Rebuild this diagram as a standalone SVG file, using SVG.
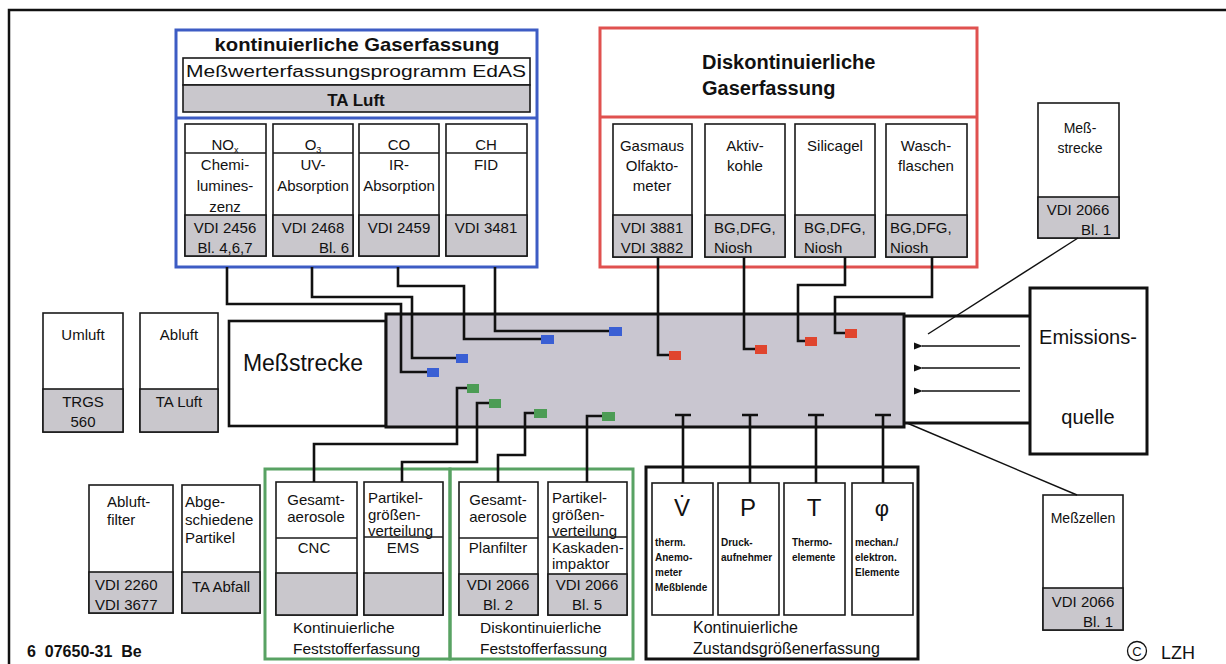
<svg xmlns="http://www.w3.org/2000/svg" width="1226" height="664" viewBox="0 0 1226 664">
<defs>
<style>
.t{font-family:"Liberation Sans",Arial,Helvetica,sans-serif;font-size:15px;fill:#111}
.b{font-weight:bold}
.m{text-anchor:middle}
.e{text-anchor:end}
.box{fill:#fff;stroke:#1a1a1a;stroke-width:1.6}
.gr{fill:#c9c7cc;stroke:#1a1a1a;stroke-width:1.6}
.ln{fill:none;stroke:#1a1a1a;stroke-width:1.6}
.conn{fill:none;stroke:#111;stroke-width:2.6}
.bs{fill:#3a5fd4}
.rs{fill:#e0452e}
.gs{fill:#4c9c55}
.sm{font-size:10px;font-weight:bold}
.cap{font-size:15.5px}
</style>
<marker id="ah" viewBox="0 0 10 10" refX="1" refY="5" markerWidth="7" markerHeight="7" orient="auto-start-reverse">
<path d="M10 1 L0 5 L10 9 z" fill="#111"/>
</marker>
</defs>
<rect width="1226" height="664" fill="#fff"/>
<path d="M9 664 V10 H1226" fill="none" stroke="#111" stroke-width="2.5"/>

<g id="blue-group">
<rect x="176" y="30" width="361" height="237" fill="none" stroke="#3d5cc4" stroke-width="3"/>
<line x1="176" y1="118" x2="537" y2="118" stroke="#3d5cc4" stroke-width="3"/>
<text class="t b m" x="357" y="51" style="font-size:19px" textLength="285" lengthAdjust="spacingAndGlyphs">kontinuierliche Gaserfassung</text>
<rect class="box" x="183" y="58" width="347" height="27"/>
<rect class="gr" x="183" y="85" width="347" height="27"/>
<text class="t m" x="356" y="77" style="font-size:16px" textLength="340" lengthAdjust="spacingAndGlyphs">Meßwerterfassungsprogramm EdAS</text>
<text class="t b m" x="356" y="106" style="font-size:17px">TA Luft</text>
</g>

<g id="nox">
<rect class="box" x="185" y="124" width="81" height="132"/>
<line class="ln" x1="185" y1="153" x2="266" y2="153"/>
<rect class="gr" x="185" y="215" width="81" height="41"/>
<text class="t m" x="225" y="150">NO<tspan font-size="9" dy="3">x</tspan></text>
<text class="t m" x="225" y="170">Chemi-</text>
<text class="t m" x="225" y="191">lumines-</text>
<text class="t m" x="225" y="212">zenz</text>
<text class="t m" x="225" y="233">VDI 2456</text>
<text class="t m" x="225" y="253">Bl. 4,6,7</text>
</g>
<g id="o3">
<rect class="box" x="273" y="124" width="80" height="132"/>
<line class="ln" x1="273" y1="153" x2="353" y2="153"/>
<rect class="gr" x="273" y="215" width="80" height="41"/>
<text class="t m" x="313" y="150">O<tspan font-size="9" dy="3">3</tspan></text>
<text class="t m" x="313" y="170">UV-</text>
<text class="t m" x="313" y="191">Absorption</text>
<text class="t m" x="313" y="233">VDI 2468</text>
<text class="t e" x="349" y="253">Bl. 6</text>
</g>
<g id="co">
<rect class="box" x="359" y="124" width="80" height="132"/>
<line class="ln" x1="359" y1="153" x2="439" y2="153"/>
<rect class="gr" x="359" y="215" width="80" height="41"/>
<text class="t m" x="399" y="150">CO</text>
<text class="t m" x="399" y="170">IR-</text>
<text class="t m" x="399" y="191">Absorption</text>
<text class="t m" x="399" y="233">VDI 2459</text>
</g>
<g id="ch">
<rect class="box" x="446" y="124" width="81" height="132"/>
<line class="ln" x1="446" y1="153" x2="527" y2="153"/>
<rect class="gr" x="446" y="215" width="81" height="41"/>
<text class="t m" x="486" y="150">CH</text>
<text class="t m" x="486" y="170">FID</text>
<text class="t m" x="486" y="233">VDI 3481</text>
</g>

<g id="red-group">
<rect x="600" y="28" width="377" height="239" fill="none" stroke="#e0514f" stroke-width="3"/>
<line x1="600" y1="117" x2="977" y2="117" stroke="#e0514f" stroke-width="3"/>
<text class="t b" x="702" y="69" style="font-size:20px">Diskontinuierliche</text>
<text class="t b" x="702" y="95" style="font-size:20px">Gaserfassung</text>
</g>
<g id="gasmaus">
<rect class="box" x="613" y="124" width="79" height="133"/>
<rect class="gr" x="613" y="215" width="79" height="42"/>
<text class="t m" x="652" y="151">Gasmaus</text>
<text class="t m" x="652" y="171">Olfakto-</text>
<text class="t m" x="652" y="191">meter</text>
<text class="t m" x="652" y="233">VDI 3881</text>
<text class="t m" x="652" y="253">VDI 3882</text>
</g>
<g id="aktivkohle">
<rect class="box" x="705" y="124" width="80" height="133"/>
<rect class="gr" x="705" y="215" width="80" height="42"/>
<text class="t m" x="745" y="151">Aktiv-</text>
<text class="t m" x="745" y="171">kohle</text>
<text class="t" x="714" y="233">BG,DFG,</text>
<text class="t" x="714" y="253">Niosh</text>
</g>
<g id="silicagel">
<rect class="box" x="795" y="124" width="80" height="133"/>
<rect class="gr" x="795" y="215" width="80" height="42"/>
<text class="t m" x="835" y="151">Silicagel</text>
<text class="t" x="804" y="233">BG,DFG,</text>
<text class="t" x="804" y="253">Niosh</text>
</g>
<g id="waschflaschen">
<rect class="box" x="886" y="124" width="81" height="133"/>
<rect class="gr" x="886" y="215" width="81" height="42"/>
<text class="t m" x="926" y="151">Wasch-</text>
<text class="t m" x="926" y="171">flaschen</text>
<text class="t" x="890" y="233">BG,DFG,</text>
<text class="t" x="890" y="253">Niosh</text>
</g>

<g id="messstrecke-norm">
<rect class="box" x="1038" y="103" width="81" height="135"/>
<rect class="gr" x="1038" y="197" width="81" height="41"/>
<text class="t m" x="1080" y="133" style="font-size:14px">Meß-</text>
<text class="t m" x="1080" y="153" style="font-size:14px">strecke</text>
<text class="t m" x="1078" y="215">VDI 2066</text>
<text class="t e" x="1111" y="235">Bl. 1</text>
</g>

<g id="umluft">
<rect class="box" x="43" y="313" width="80" height="119"/>
<rect class="gr" x="43" y="389" width="80" height="43"/>
<text class="t m" x="83" y="340">Umluft</text>
<text class="t m" x="83" y="407">TRGS</text>
<text class="t m" x="83" y="427">560</text>
</g>
<g id="abluft">
<rect class="box" x="140" y="313" width="78" height="119"/>
<rect class="gr" x="140" y="389" width="78" height="43"/>
<text class="t m" x="179" y="340">Abluft</text>
<text class="t m" x="179" y="407">TA Luft</text>
</g>
<g id="messstrecke">
<rect x="229" y="321" width="157" height="105" fill="#fff" stroke="#111" stroke-width="2.6"/>
<text class="t m" x="303" y="371" style="font-size:23px">Meßstrecke</text>
</g>

<g id="duct">
<rect x="386" y="314" width="518" height="113" fill="#c9c6d0" stroke="#111" stroke-width="3"/>
<line x1="904" y1="316" x2="1030" y2="316" stroke="#111" stroke-width="3"/>
<line x1="904" y1="423" x2="1030" y2="423" stroke="#111" stroke-width="3"/>
<line x1="1020" y1="346" x2="922" y2="346" stroke="#111" stroke-width="1.3" marker-end="url(#ah)"/>
<line x1="1020" y1="368" x2="922" y2="368" stroke="#111" stroke-width="1.3" marker-end="url(#ah)"/>
<line x1="1020" y1="391" x2="922" y2="391" stroke="#111" stroke-width="1.3" marker-end="url(#ah)"/>
</g>

<g id="emissionsquelle">
<rect x="1030" y="288" width="117" height="166" fill="#fff" stroke="#111" stroke-width="3"/>
<text class="t m" x="1088" y="344" style="font-size:20px">Emissions-</text>
<text class="t m" x="1088" y="424" style="font-size:20px">quelle</text>
</g>

<g id="messzellen">
<rect class="box" x="1043" y="495" width="80" height="135"/>
<rect class="gr" x="1043" y="588" width="80" height="42"/>
<text class="t m" x="1083" y="523" style="font-size:14px">Meßzellen</text>
<text class="t m" x="1083" y="607">VDI 2066</text>
<text class="t e" x="1113" y="627">Bl. 1</text>
</g>

<g id="abluftfilter">
<rect class="box" x="89" y="485" width="84" height="128"/>
<rect class="gr" x="89" y="572" width="84" height="41"/>
<text class="t" x="107" y="507">Abluft-</text>
<text class="t" x="107" y="525">filter</text>
<text class="t" x="95" y="590">VDI 2260</text>
<text class="t" x="95" y="610">VDI 3677</text>
</g>
<g id="abgeschiedene">
<rect class="box" x="182" y="485" width="78" height="128"/>
<rect class="gr" x="182" y="572" width="78" height="41"/>
<text class="t" x="185" y="507">Abge-</text>
<text class="t" x="185" y="525">schiedene</text>
<text class="t" x="185" y="543">Partikel</text>
<text class="t m" x="221" y="592">TA Abfall</text>
</g>

<g id="kont-feststoff">
<rect x="265" y="469" width="185" height="190" fill="none" stroke="#58a263" stroke-width="3"/>
<rect class="box" x="276" y="482" width="81" height="133"/>
<line class="ln" x1="276" y1="538" x2="357" y2="538"/>
<rect class="gr" x="276" y="573" width="81" height="42"/>
<text class="t m" x="316" y="505">Gesamt-</text>
<text class="t m" x="316" y="522">aerosole</text>
<text class="t m" x="314" y="553">CNC</text>
<rect class="box" x="364" y="482" width="79" height="133"/>
<line class="ln" x1="364" y1="537" x2="443" y2="537"/>
<rect class="gr" x="364" y="573" width="79" height="42"/>
<text class="t" x="368" y="503">Partikel-</text>
<text class="t" x="368" y="520">größen-</text>
<text class="t" x="368" y="536">verteilung</text>
<text class="t m" x="403" y="553">EMS</text>
<text class="t cap" x="293" y="633">Kontinuierliche</text>
<text class="t cap" x="293" y="654">Feststofferfassung</text>
</g>
<g id="diskont-feststoff">
<rect x="450" y="469" width="183" height="190" fill="none" stroke="#58a263" stroke-width="3"/>
<rect class="box" x="459" y="482" width="79" height="133"/>
<line class="ln" x1="459" y1="538" x2="538" y2="538"/>
<rect class="gr" x="459" y="574" width="79" height="41"/>
<text class="t m" x="498" y="505">Gesamt-</text>
<text class="t m" x="498" y="522">aerosole</text>
<text class="t m" x="498" y="553">Planfilter</text>
<text class="t m" x="498" y="590">VDI 2066</text>
<text class="t m" x="498" y="610">Bl. 2</text>
<rect class="box" x="548" y="482" width="79" height="133"/>
<line class="ln" x1="548" y1="537" x2="627" y2="537"/>
<rect class="gr" x="548" y="574" width="79" height="41"/>
<text class="t" x="552" y="503">Partikel-</text>
<text class="t" x="552" y="520">größen-</text>
<text class="t" x="552" y="536">verteilung</text>
<text class="t" x="552" y="553">Kaskaden-</text>
<text class="t" x="552" y="569">impaktor</text>
<text class="t m" x="587" y="590">VDI 2066</text>
<text class="t m" x="587" y="610">Bl. 5</text>
<text class="t cap" x="480" y="633">Diskontinuierliche</text>
<text class="t cap" x="480" y="654">Feststofferfassung</text>
</g>

<g id="zustand">
<rect x="646" y="467" width="272" height="192" fill="#fff" stroke="#111" stroke-width="3"/>
<rect class="box" x="652" y="483" width="61" height="132"/>
<rect class="box" x="718" y="483" width="61" height="132"/>
<rect class="box" x="784" y="483" width="61" height="132"/>
<rect class="box" x="852" y="483" width="61" height="132"/>
<text class="t m" x="682" y="516" style="font-size:24px">V̇</text>
<text class="t m" x="748" y="516" style="font-size:24px">P</text>
<text class="t m" x="814" y="516" style="font-size:24px">T</text>
<text class="t m" x="882" y="516" style="font-size:22px">φ</text>
<text class="t sm" x="655" y="546">therm.</text>
<text class="t sm" x="655" y="561">Anemo-</text>
<text class="t sm" x="655" y="576">meter</text>
<text class="t sm" x="655" y="591">Meßblende</text>
<text class="t sm" x="721" y="546">Druck-</text>
<text class="t sm" x="721" y="561">aufnehmer</text>
<text class="t sm" x="792" y="546">Thermo-</text>
<text class="t sm" x="792" y="561">elemente</text>
<text class="t sm" x="855" y="546">mechan./</text>
<text class="t sm" x="855" y="561">elektron.</text>
<text class="t sm" x="855" y="576">Elemente</text>
<text class="t" x="693" y="633" style="font-size:16px">Kontinuierliche</text>
<text class="t" x="693" y="654" style="font-size:16px">Zustandsgrößenerfassung</text>
</g>

<g id="connectors">
<path class="conn" d="M227 267 V304 H401 V372 H427"/>
<path class="conn" d="M312 267 V297 H412 V358 H456"/>
<path class="conn" d="M398 267 V286 H464 V339 H541"/>
<path class="conn" d="M495 267 V331 H609"/>
<path class="conn" d="M658 257 V355 H669"/>
<path class="conn" d="M744 257 V349 H755"/>
<path class="conn" d="M845 257 V285 H798 V341 H805"/>
<path class="conn" d="M932 257 V297 H835 V333 H845"/>
<path class="conn" d="M314 482 V444 H457 V388 H467"/>
<path class="conn" d="M402 482 V462 H477 V403 H489"/>
<path class="conn" d="M498 482 V455 H525 V413 H534"/>
<path class="conn" d="M587 482 V416 H602"/>
<path class="conn" d="M683 483 V415 M675 415 H691"/>
<path class="conn" d="M750 483 V415 M742 415 H758"/>
<path class="conn" d="M816 483 V415 M808 415 H824"/>
<path class="conn" d="M883 483 V415 M875 415 H891"/>
<line x1="1078" y1="238" x2="928" y2="334" stroke="#111" stroke-width="1.4"/>
<line x1="907" y1="423" x2="1077" y2="495" stroke="#111" stroke-width="1.4"/>
<rect class="bs" x="427" y="368" width="12" height="9"/>
<rect class="bs" x="456" y="354" width="12" height="9"/>
<rect class="bs" x="541" y="335" width="13" height="9"/>
<rect class="bs" x="609" y="327" width="13" height="9"/>
<rect class="rs" x="669" y="351" width="12" height="9"/>
<rect class="rs" x="755" y="345" width="12" height="9"/>
<rect class="rs" x="805" y="337" width="12" height="9"/>
<rect class="rs" x="845" y="329" width="12" height="9"/>
<rect class="gs" x="467" y="384" width="12" height="9"/>
<rect class="gs" x="489" y="399" width="12" height="9"/>
<rect class="gs" x="534" y="409" width="13" height="9"/>
<rect class="gs" x="602" y="412" width="13" height="9"/>
</g>

<g id="footer">
<text class="t b" x="27" y="657" style="font-size:16px;white-space:pre">6  07650-31  Be</text>
<circle cx="1137" cy="651" r="9.5" fill="none" stroke="#111" stroke-width="1.3"/>
<text class="t m" x="1137" y="656" style="font-size:13px">C</text>
<text class="t" x="1161" y="659" style="font-size:18px">LZH</text>
</g>
</svg>
